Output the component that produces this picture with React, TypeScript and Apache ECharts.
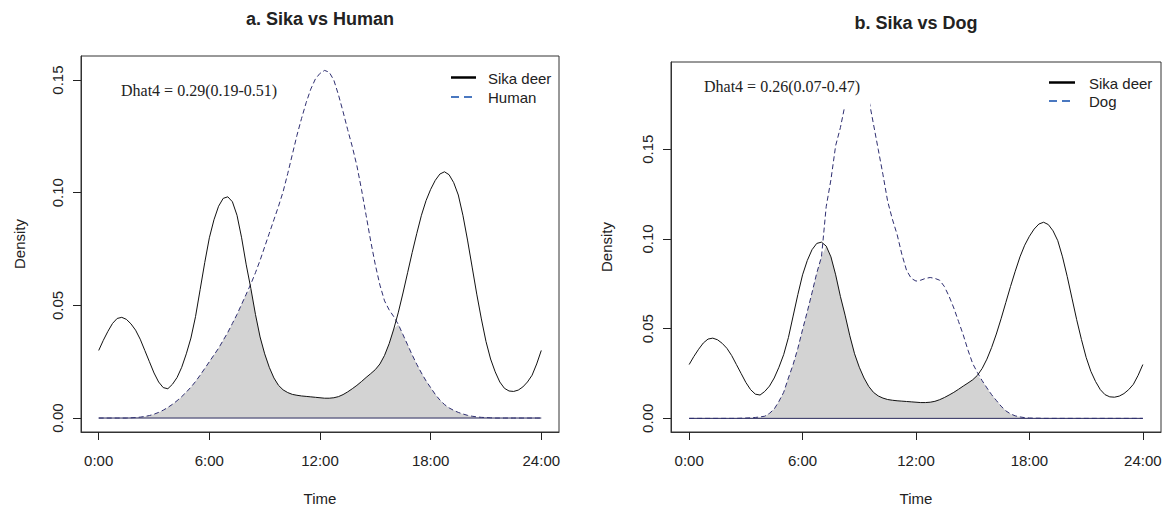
import React, { useEffect, useRef } from 'react';
import * as echarts from 'echarts';

// x grid: hours 0..24 every 0.25 h
const STEP = 0.25;

const sika = [
  0.0300, 0.0345, 0.0385, 0.0420,
  0.0442, 0.0447, 0.0438, 0.0418,
  0.0390, 0.0350, 0.0300, 0.0250,
  0.0200, 0.0160, 0.0135, 0.0130,
  0.0150, 0.0180, 0.0225, 0.0285,
  0.0355, 0.0450, 0.0570, 0.0690,
  0.0800, 0.0880, 0.0940, 0.0975,
  0.0982, 0.0960, 0.0900, 0.0800,
  0.0680, 0.0575, 0.0460, 0.0360,
  0.0285, 0.0225, 0.0178, 0.0145,
  0.0125, 0.0113, 0.0105, 0.0101,
  0.0098, 0.0096, 0.0094, 0.0092,
  0.0090, 0.0088, 0.0088, 0.0090,
  0.0095, 0.0104, 0.0116, 0.0130,
  0.0145, 0.0162, 0.0180, 0.0197,
  0.0215, 0.0240, 0.0278, 0.0330,
  0.0395, 0.0470, 0.0555, 0.0645,
  0.0735, 0.0820, 0.0900, 0.0965,
  0.1015, 0.1055, 0.1083, 0.1093,
  0.1080, 0.1045, 0.0990, 0.0900,
  0.0790, 0.0670, 0.0550, 0.0440,
  0.0340, 0.0262, 0.0205, 0.0160,
  0.0132, 0.0120, 0.0118, 0.0124,
  0.0138, 0.0160, 0.0190, 0.0240,
  0.0300,
];

const human = [
  0, 0, 0, 0,
  0, 0, 0, 0.0001,
  0.0002, 0.0004, 0.0007, 0.0011,
  0.0017, 0.0025, 0.0035, 0.0047,
  0.0061, 0.0077, 0.0095, 0.0115,
  0.0137, 0.0162, 0.0190, 0.0220,
  0.0250, 0.0280, 0.0310, 0.0345,
  0.0380, 0.0420, 0.0460, 0.0505,
  0.0550, 0.0595, 0.0645, 0.0700,
  0.0760, 0.0820, 0.0880, 0.0940,
  0.1005, 0.1085, 0.1170, 0.1255,
  0.1330, 0.1400, 0.1460, 0.1505,
  0.1530, 0.1543, 0.1535, 0.1500,
  0.1435, 0.1360, 0.1280, 0.1205,
  0.1120, 0.1015, 0.0900, 0.0785,
  0.0680, 0.0590, 0.0520, 0.0480,
  0.0450, 0.0415, 0.0370, 0.0325,
  0.0280, 0.0238, 0.0200, 0.0165,
  0.0135, 0.0105, 0.0080, 0.0060,
  0.0045, 0.0034, 0.0025, 0.0018,
  0.0012, 0.0008, 0.0005, 0.0003,
  0.0002, 0.0001, 0, 0,
  0, 0, 0, 0,
  0, 0, 0, 0,
  0,
];

const dog = [
  0, 0, 0, 0,
  0, 0, 0, 0,
  0, 0, 0, 0.0001,
  0.0002, 0.0003, 0.0005, 0.0008,
  0.0012, 0.0028, 0.0052, 0.0095,
  0.0145, 0.0225, 0.0300, 0.0390,
  0.0495, 0.0595, 0.0700, 0.0810,
  0.0900, 0.1180, 0.1330, 0.1520,
  0.1620, 0.1750, 0.1840, 0.1900,
  0.1910, 0.1880, 0.1780, 0.1640,
  0.1500, 0.1360, 0.1210, 0.1110,
  0.1025, 0.0915, 0.0825, 0.0780,
  0.0765, 0.0770, 0.0780, 0.0785,
  0.0780, 0.0770, 0.0735, 0.0680,
  0.0615, 0.0540, 0.0465, 0.0380,
  0.0305, 0.0255, 0.0210, 0.0170,
  0.0132, 0.0100, 0.0068, 0.0042,
  0.0025, 0.0014, 0.0008, 0.0004,
  0.0002, 0.0001, 0.0001, 0,
  0, 0, 0, 0,
  0, 0, 0, 0,
  0, 0, 0, 0,
  0, 0, 0, 0,
  0, 0, 0, 0,
  0,
];

const hours = sika.map((_, i) => i * STEP);
const timeTicks = [0, 6, 12, 18, 24];
const timeLabels = ['0:00', '6:00', '12:00', '18:00', '24:00'];
const densityTicks = [0, 0.05, 0.1, 0.15];
const titles = ['a. Sika vs Human', 'b. Sika vs Dog'];
const dhatTexts = ['Dhat4 = 0.29(0.19-0.51)', 'Dhat4 = 0.26(0.07-0.47)'];
const legendNames = [['Sika deer', 'Human'], ['Sika deer', 'Dog']];

const pairs = (ys: number[]) => hours.map((h, i) => [h, ys[i]]);
const overlap = (a: number[], b: number[]) => hours.map((h, i) => [h, Math.min(a[i], b[i])]);

const SANS = 'Liberation Sans, Arial, sans-serif';
const SERIF = 'Liberation Serif, Times New Roman, serif';
const TXT = '#222';
const CURVE2 = '#2e2e70';
const LEGEND_BLUE = '#4a78c0';

function text(x: number, y: number, t: string, font: string, align = 'left', rotation = 0, z = 101) {
  return {
    type: 'text', x, y, rotation, z,
    style: { text: t, font, fill: TXT, align, verticalAlign: 'middle', textAlign: align, textVerticalAlign: 'middle' },
  };
}
function line(x1: number, y1: number, x2: number, y2: number, stroke: string, lineWidth: number, dash?: number[]) {
  return {
    type: 'line', z: 101,
    shape: { x1, y1, x2, y2 },
    style: { stroke, lineWidth, lineDash: dash || null },
  };
}

export default function App() {
  const ref = useRef<HTMLDivElement>(null);
  useEffect(() => {
    if (!ref.current) return;
    const chart = echarts.init(ref.current, null, { renderer: 'svg' });
    const panels = [
      { left: 81, top: 56, width: 478, height: 376, ymin: -0.0062, ymax: 0.1607, other: human },
      { left: 671, top: 62, width: 490, height: 370, ymin: -0.0076, ymax: 0.1986, other: dog },
    ];
    const xAxis = panels.map((p, i) => ({
      gridIndex: i, type: 'value', min: -0.96, max: 24.96, position: 'bottom',
      axisLine: { show: true, onZero: false, lineStyle: { color: '#333', width: 1 } },
      axisTick: { show: true, inside: false, length: 8, customValues: timeTicks, lineStyle: { color: '#222', width: 1 } },
      axisLabel: {
        customValues: timeTicks, margin: 21, fontSize: 15, fontFamily: SANS, color: TXT,
        formatter: (v: number) => timeLabels[timeTicks.indexOf(v)] ?? '',
      },
      splitLine: { show: false },
    }));
    const yAxis = panels.map((p, i) => ({
      gridIndex: i, type: 'value', min: p.ymin, max: p.ymax, position: 'left',
      axisLine: { show: true, onZero: false, lineStyle: { color: '#333', width: 1 } },
      axisTick: { show: true, inside: false, length: 8, customValues: densityTicks, lineStyle: { color: '#222', width: 1 } },
      axisLabel: {
        customValues: densityTicks, rotate: 90, margin: 16, fontSize: 15, fontFamily: SANS, color: TXT,
        formatter: (v: number) => v.toFixed(2),
      },
      splitLine: { show: false },
    }));
    const series: any[] = [];
    panels.forEach((p, i) => {
      series.push({
        type: 'line', xAxisIndex: i, yAxisIndex: i, data: overlap(sika, p.other), showSymbol: false, silent: true,
        lineStyle: { width: 0 }, areaStyle: { color: '#d3d3d3', opacity: 1 }, z: 1,
      });
      series.push({
        type: 'line', xAxisIndex: i, yAxisIndex: i, data: [[0, 0], [24, 0]], showSymbol: false, silent: true,
        lineStyle: { color: '#2a2a5c', width: 1 }, z: 2,
      });
      series.push({
        type: 'line', xAxisIndex: i, yAxisIndex: i, data: pairs(p.other), showSymbol: false, silent: true,
        lineStyle: { color: CURVE2, width: 1, type: [5, 3] }, z: 3,
      });
      series.push({
        type: 'line', xAxisIndex: i, yAxisIndex: i, data: pairs(sika), showSymbol: false, silent: true,
        lineStyle: { color: '#111', width: 1 }, z: 4,
      });
    });

    const graphic: any[] = [
      // white background of the Dhat4 label in panel b (hides the top of the dog curve)
      { type: 'rect', z: 100, shape: { x: 700, y: 63, width: 170, height: 44 }, style: { fill: '#ffffff' } },
      text(320, 19, titles[0], `bold 18px ${SANS}`, 'center'),
      text(916, 23, titles[1], `bold 18px ${SANS}`, 'center'),
      text(121, 90, dhatTexts[0], `16px ${SERIF}`),
      text(704, 86, dhatTexts[1], `16px ${SERIF}`),
      line(451, 77.5, 476, 77.5, '#000', 2.5),
      line(451, 97, 476, 97, LEGEND_BLUE, 2, [8, 5]),
      text(488, 78, legendNames[0][0], `15px ${SANS}`),
      text(488, 97, legendNames[0][1], `15px ${SANS}`),
      line(1049, 82.5, 1075, 82.5, '#000', 2.5),
      line(1049, 101, 1075, 101, LEGEND_BLUE, 2, [8, 5]),
      text(1089, 83, legendNames[1][0], `15px ${SANS}`),
      text(1089, 101, legendNames[1][1], `15px ${SANS}`),
      text(19, 244, 'Density', `15px ${SANS}`, 'center', Math.PI / 2),
      text(606, 247, 'Density', `15px ${SANS}`, 'center', Math.PI / 2),
      text(320, 498, 'Time', `15px ${SANS}`, 'center'),
      text(916, 498, 'Time', `15px ${SANS}`, 'center'),
    ];

    chart.setOption({
      animation: false,
      backgroundColor: '#ffffff',
      grid: panels.map((p) => ({
        left: p.left, top: p.top, width: p.width, height: p.height,
        show: true, borderColor: '#333', borderWidth: 1, backgroundColor: 'transparent',
      })),
      xAxis, yAxis, series, graphic,
    });
    return () => chart.dispose();
  }, []);
  return (
    <div
      ref={ref}
      style={{ position: 'absolute', left: 0, top: 0, width: 1171, height: 508, background: '#fff' }}
    />
  );
}
